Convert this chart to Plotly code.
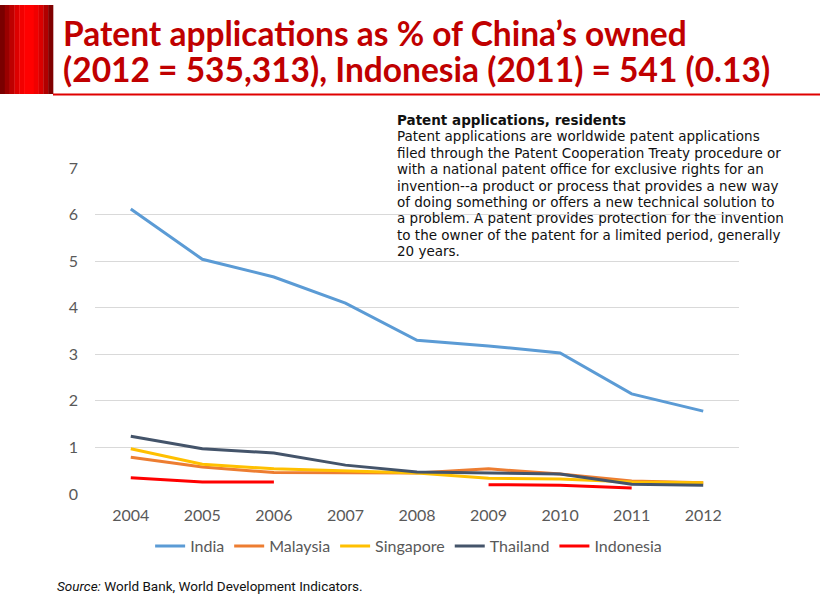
import plotly.graph_objects as go

years = ["2004", "2005", "2006", "2007", "2008", "2009", "2010", "2011", "2012"]
india = [6.12, 5.04, 4.66, 4.10, 3.30, 3.18, 3.03, 2.15, 1.78]
malaysia = [0.79, 0.58, 0.46, 0.45, 0.45, 0.54, 0.43, 0.28, 0.24]
singapore = [0.97, 0.64, 0.54, 0.49, 0.45, 0.34, 0.32, 0.26, 0.24]
thailand = [1.24, 0.97, 0.88, 0.62, 0.47, 0.45, 0.43, 0.21, 0.19]
indonesia = [0.35, 0.26, 0.26, None, None, 0.20, 0.19, 0.13, None]

series = [
    ("India", india, "#5B9BD5"),
    ("Malaysia", malaysia, "#ED7D31"),
    ("Singapore", singapore, "#FFC000"),
    ("Thailand", thailand, "#44546A"),
    ("Indonesia", indonesia, "#FF0000"),
]

title_lines = ["Patent applications as % of China’s owned",
               "(2012 = 535,313), Indonesia (2011) = 541 (0.13)"]
note_title = "Patent applications, residents"
note_lines = [
    "Patent applications are worldwide patent applications",
    "filed through the Patent Cooperation Treaty procedure or",
    "with a national patent office for exclusive rights for an",
    "invention--a product or process that provides a new way",
    "of doing something or offers a new technical solution to",
    "a problem. A patent provides protection for the invention",
    "to the owner of the patent for a limited period, generally",
    "20 years.",
]
source_text = "<i>Source:</i> World Bank, World Development Indicators."

W, H = 820, 605
L, R, T, B = 95, 81, 168, 111
PW, PH = W - L - R, H - T - B


def px(x):
    return (x - L) / PW


def py(y):
    return (H - B - y) / PH


fig = go.Figure()
for name, vals, col in series:
    fig.add_trace(go.Scatter(x=years, y=vals, name=name, mode="lines",
                             line=dict(color=col, width=3), connectgaps=False))

tickfont = dict(family="Lato, Open Sans, sans-serif", size=16, color="#595959")
fig.update_layout(
    width=W, height=H,
    margin=dict(l=L, r=R, t=T, b=B, autoexpand=False),
    paper_bgcolor="white", plot_bgcolor="white",
    showlegend=True,
    legend=dict(orientation="h", x=0.487, xanchor="center", y=py(529), yanchor="top",
                font=tickfont, traceorder="normal", itemwidth=30),
    xaxis=dict(type="category", range=[-0.5, 8.5], showgrid=False, showline=False,
               ticks="", tickfont=tickfont, zeroline=False, ticklabelstandoff=10),
    yaxis=dict(range=[0, 7], dtick=1, showgrid=True, gridcolor="#D9D9D9", gridwidth=1,
               zeroline=False, showline=False, tickfont=tickfont, ticks="",
               ticklabelstandoff=16),
)

# title decoration: gradient-like red block
shades = ["#7A0000", "#9A0000", "#BE0000", "#DD0000", "#F20000", "#FF0000",
          "#FF0000", "#F00000", "#D80000", "#B00000", "#800000"]
bw = 53 / len(shades)
for i, c in enumerate(shades):
    fig.add_shape(type="rect", xref="paper", yref="paper",
                  x0=px(i * bw), x1=px((i + 1) * bw) + 0.0005,
                  y0=py(94), y1=py(5),
                  fillcolor=c, line=dict(width=0), layer="above")
fig.add_shape(type="line", xref="paper", yref="paper",
              x0=px(53), x1=px(820), y0=py(94.5), y1=py(94.5),
              line=dict(color="#E00000", width=2))

for i, t in enumerate(title_lines):
    fig.add_annotation(text="<b>" + t + "</b>", xref="paper", yref="paper",
                       x=px(61), y=py(33 + 36 * i),
                       xanchor="left", yanchor="middle", showarrow=False,
                       font=dict(family="Lato, sans-serif", size=33.5, color="#C00000"))

note_all = ["<b>" + note_title + "</b>"] + note_lines
for i, t in enumerate(note_all):
    fig.add_annotation(text=t, xref="paper", yref="paper", x=px(395), y=py(120 + 16.4 * i),
                       xanchor="left", yanchor="middle", align="left", showarrow=False,
                       font=dict(family="DejaVu Sans, Verdana, sans-serif", size=13.5,
                                 color="#111111"))

fig.add_annotation(text=source_text, xref="paper", yref="paper",
                   x=px(55), y=py(586),
                   xanchor="left", yanchor="middle", showarrow=False,
                   font=dict(family="Roboto, sans-serif", size=13.5, color="#111111"))

fig.write_html("out.html", config={"displayModeBar": False},
               post_script="document.body.style.margin='0';")
